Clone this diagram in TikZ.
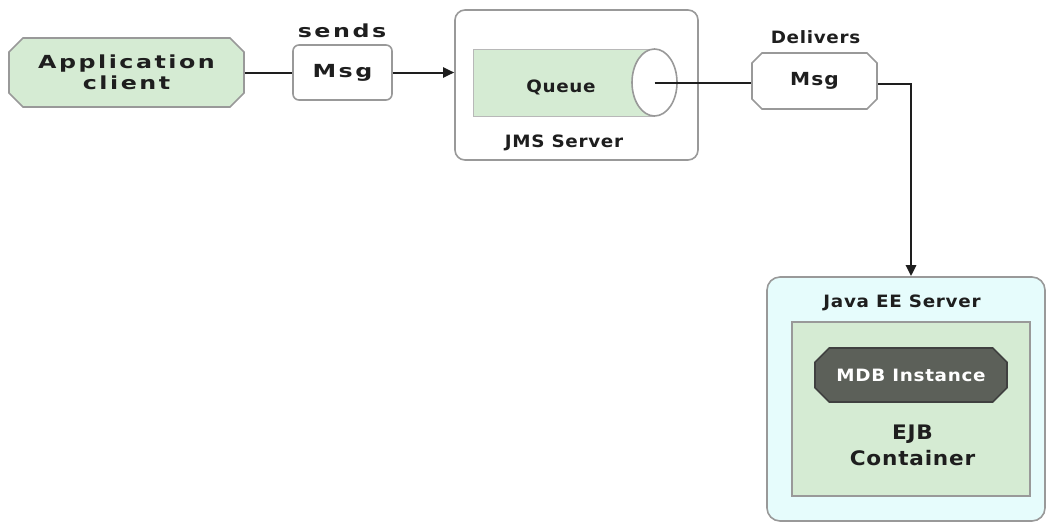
\documentclass[tikz,border=0pt]{standalone}
\usepackage{fontspec}
\setmainfont{DejaVu Sans}
\newfontfamily\widefont{DejaVu Sans}[FakeStretch=1.32,LetterSpace=14]
\newfontfamily\midfont{DejaVu Sans}[FakeStretch=1.12,LetterSpace=6]
\newfontfamily\spacedfont{DejaVu Sans}[FakeStretch=1.08,LetterSpace=4]
\usetikzlibrary{shapes.misc,shapes.geometric,arrows.meta}
\definecolor{boxgreen}{HTML}{D5EBD3}
\definecolor{servercyan}{HTML}{E6FCFC}
\definecolor{mdbgray}{HTML}{5C6059}
\definecolor{edgegray}{HTML}{999999}
\definecolor{inkdark}{HTML}{1E1E1E}
\begin{document}
\begin{tikzpicture}[x=1pt,y=-1pt,
  every node/.style={inner sep=0pt, text=inkdark},
  boxline/.style={draw=edgegray, line width=1.6pt},
  clientbox/.style={boxline, chamfered rectangle, chamfered rectangle xsep=7pt,
    chamfered rectangle ysep=7pt, fill=boxgreen, align=center,
    font=\widefont\bfseries\fontsize{18}{21}\selectfont},
  msgbox/.style={boxline, rectangle, rounded corners=6pt, fill=white},
  msgchamf/.style={boxline, chamfered rectangle, chamfered rectangle xsep=5pt,
    chamfered rectangle ysep=5pt, fill=white},
  serverbox/.style={boxline, rectangle, fill=white},
  queuebody/.style={draw=edgegray!70, line width=1pt, rectangle, fill=boxgreen},
  queueend/.style={boxline, ellipse, fill=white},
  labeltext/.style={font=\spacedfont\bfseries\fontsize{17}{20}\selectfont},
  connector/.style={draw=inkdark, line width=2pt},
  arrowtip/.style={-{Triangle[length=11pt,width=10pt]}}
]
\useasboundingbox (0,0) rectangle (1048,523);

% sender side
\node[clientbox, minimum width=235pt, minimum height=69pt] (client) at (126.5,72.5)
  {Application\\client};
\node[msgbox, minimum width=99pt, minimum height=55pt,
  font=\widefont\bfseries\fontsize{18}{21}\selectfont] (msg1) at (342.5,72.5) {Msg};
\node[anchor=base, font=\widefont\bfseries\fontsize{18}{21}\selectfont] (sends) at (342,37) {sends};

% JMS server with its queue
\node[serverbox, rounded corners=10pt, minimum width=243pt, minimum height=150pt] (jms) at (576.5,85) {};
\node[queuebody, minimum width=181pt, minimum height=67pt] (queue) at (563.5,82.5) {};
\node[queueend, minimum width=45pt, minimum height=67pt] (qend) at (654.5,82.5) {};
\node[labeltext, anchor=base] (queuelabel) at (561,92) {Queue};
\node[labeltext, anchor=base] (jmslabel) at (564,147) {JMS Server};

% delivered message
\node[msgchamf, minimum width=125pt, minimum height=56pt,
  font=\midfont\bfseries\fontsize{18}{21}\selectfont] (msg2) at (814.5,81) {Msg};
\node[labeltext, anchor=base] (delivers) at (815.5,43) {Delivers};

% receiving server
\node[boxline, rectangle, rounded corners=13pt, fill=servercyan,
  minimum width=278pt, minimum height=244pt] (javaee) at (906,399) {};
\node[labeltext, anchor=base] (javaeelabel) at (902,307) {Java EE Server};
\node[boxline, rectangle, fill=boxgreen, minimum width=238pt, minimum height=174pt] (ejb) at (911,409) {};
\node[chamfered rectangle, chamfered rectangle xsep=8pt, chamfered rectangle ysep=8pt,
  draw=inkdark!85, line width=1.6pt, fill=mdbgray, minimum width=192pt, minimum height=54pt,
  labeltext, text=white] (mdb) at (911,375) {MDB Instance};
\node[align=center, font=\spacedfont\bfseries\fontsize{20}{26}\selectfont] (ejblabel) at (912.5,445)
  {EJB\\Container};

% connectors
\coordinate (bend) at (911,84);
\draw[connector] (client.east) -- (msg1.west);
\draw[connector, arrowtip] (msg1.east) -- (msg1.east -| jms.west);
\draw[connector] (qend.center) -- (qend.center -| msg2.west);
\draw[connector, arrowtip, line width=2.6pt] (msg2.east |- bend) -- (bend) -- (bend |- javaee.north);
\end{tikzpicture}
\end{document}
